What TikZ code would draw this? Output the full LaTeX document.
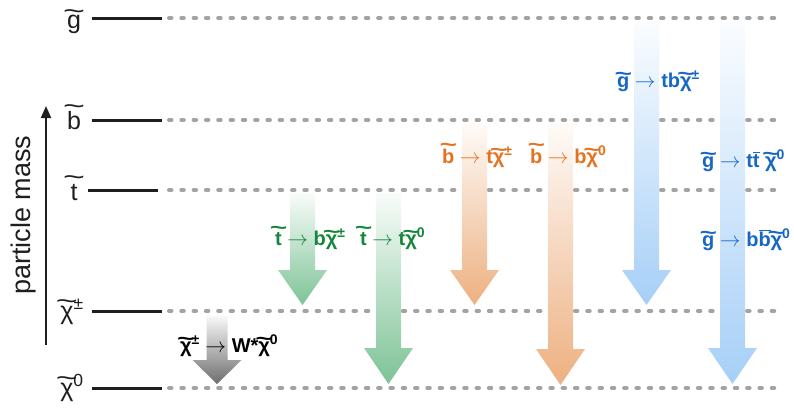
\documentclass[tikz,border=0pt]{standalone}
\usepackage{fontspec}
\setmainfont{Liberation Sans}
\usepackage{graphicx}
\usetikzlibrary{arrows.meta}
\definecolor{grnc}{HTML}{13883A}
\definecolor{orgc}{HTML}{E5721F}
\definecolor{bluc}{HTML}{1767C6}
\definecolor{grnf}{HTML}{7DC396}
\definecolor{orgf}{HTML}{EDB080}
\definecolor{bluf}{HTML}{A6CFF7}
\definecolor{gryf}{HTML}{6E6E6E}
\definecolor{dashc}{HTML}{A3A3A3}
\definecolor{inkc}{HTML}{1E1E1E}
\newcommand\tld[2][0.32em]{\ooalign{#2\cr\hidewidth\raisebox{#1}{\scalebox{1.5}[1]{\char"7E}}\hidewidth\cr}}
\newcommand\barr[1]{$\overline{\hbox{#1}}$}
\tikzset{
  lvl/.style={line width=3pt,inkc},
  gap/.style={line width=4pt,dashc,line cap=round,dash pattern=on 2.5pt off 9.8pt},
  lvlab/.style={font=\fontsize{25}{25}\selectfont,inkc,anchor=base,inner sep=0pt},
  dk/.style={font=\bfseries\fontsize{20}{20}\selectfont,anchor=base west,inner sep=0pt},
  mass/.style={-{Triangle[length=12pt,width=10pt]},line width=2pt,inkc}
}
\begin{document}
\begin{tikzpicture}[x=1pt,y=-1pt]
\useasboundingbox (0,0) rectangle (794,415);
% mass levels
\foreach \nm/\yy/\xa in {g/18/92,b/120/92,t/190/88,c/311/92,n/388/92}{
  \draw[lvl] (\xa,\yy) coordinate (\nm0) -- ++(70,0) coordinate (\nm1);
  \draw[gap] (169,\yy) -- (780,\yy);
}
\node[lvlab] (lg) at (74,28) {\tld[0.36em]{g}};
\node[lvlab] (lb) at (74,129) {\tld[0.6em]{b}};
\node[lvlab] (lt) at (74,200) {\tld[0.58em]{t}};
\node[lvlab] (lc) at (72,319) {\tld[0.4em]{χ}\textsuperscript{±}};
\node[lvlab] (ln) at (72,396) {\tld[0.4em]{χ}\textsuperscript{0}};
% axis
\coordinate (mlo) at (46,345);
\coordinate (mhi) at (46,106);
\draw[mass] (mlo) -- (mhi);
\node[rotate=90,font=\fontsize{27}{27}\selectfont,inkc] (pm) at (24,215) {particle mass};
% decay arrows
\foreach \cx/\ya/\yh/\yb/\sw/\cl in {217/316/360/384/10.5/gryf,
    302.5/193/270/305/12.5/grnf,388.5/193/348/384/12.5/grnf,
    474.5/123/270/305/12.5/orgf,560.5/123/349/385/12.5/orgf,
    646.5/22/270/305/12.5/bluf,732.5/22/348/384/12.5/bluf}{
  \shade[top color=\cl!5,bottom color=\cl]
    ({\cx-\sw},\ya) -- ({\cx+\sw},\ya) -- ({\cx+\sw},\yh) -- ({\cx+24.5},\yh)
    -- (\cx,\yb) -- ({\cx-24.5},\yh) -- ({\cx-\sw},\yh) -- cycle;
}
% decay labels
\node[dk,black] (dc) at (180,352) {\tld{χ}\textsuperscript{±} $\rightarrow$ W*\tld{χ}\textsuperscript{0}};
\node[dk,grnc] (dt1) at (275,245) {\tld[0.55em]{t} $\rightarrow$ b\tld{χ}\textsuperscript{±}};
\node[dk,grnc] (dt2) at (360,245) {\tld[0.55em]{t} $\rightarrow$ t\tld{χ}\textsuperscript{0}};
\node[dk,orgc] (db1) at (442,163) {\tld[0.57em]{b} $\rightarrow$ t\tld{χ}\textsuperscript{±}};
\node[dk,orgc] (db2) at (530,163) {\tld[0.57em]{b} $\rightarrow$ b\tld{χ}\textsuperscript{0}};
\node[dk,bluc] (dg1) at (617,87) {\tld{g} $\rightarrow$ tb\tld{χ}\textsuperscript{±}};
\node[dk,bluc] (dg2) at (702,167) {\tld{g} $\rightarrow$ t\barr{t} \tld{χ}\textsuperscript{0}};
\node[dk,bluc] (dg3) at (702,246) {\tld{g} $\rightarrow$ b\barr{b}\tld{χ}\textsuperscript{0}};
\end{tikzpicture}
\end{document}
